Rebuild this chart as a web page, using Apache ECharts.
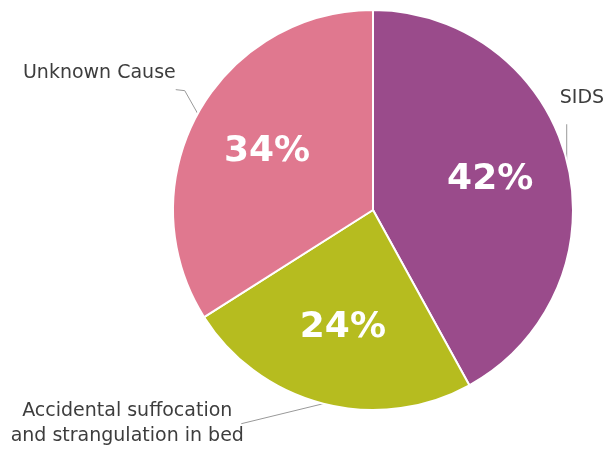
<!DOCTYPE html>
<html><head><meta charset="utf-8">
<script src="https://cdn.jsdelivr.net/npm/echarts@6/dist/echarts.min.js"></script>
<style>html,body{margin:0;padding:0;background:#fff}#c{width:609px;height:453px}</style>
</head><body><div id="c"></div>
<script>
var categories = ['SIDS', 'Accidental suffocation\nand strangulation in bed', 'Unknown Cause'];
var values = [42, 24, 34];
var colors = ['#9a4b8b', '#b6bc1f', '#e0788f'];

var data = categories.map(function (n, i) {
  return { name: n, value: values[i], itemStyle: { color: colors[i] } };
});
var FONT = '"DejaVu Sans", sans-serif';
var chart = echarts.init(document.getElementById('c'));
chart.setOption({
  animation: false,
  series: [{
    type: 'pie',
    center: [373, 210],
    radius: 200,
    startAngle: 90,
    clockwise: true,
    avoidLabelOverlap: false,
    data: data,
    itemStyle: { borderColor: '#fff', borderWidth: 2 },
    label: {
      position: 'outside',
      color: '#3d3d3d',
      fontFamily: FONT,
      fontSize: 19,
      lineHeight: 25,
      overflow: 'none'
    },
    labelLine: { length: 20, length2: 10, lineStyle: { color: '#999', width: 1 } },
    labelLayout: function (p) {
      var s = p.labelLinePoints[0];
      if (p.dataIndex === 0) {
        return { x: s[0] - 7, y: s[1] - 62, align: 'left', verticalAlign: 'middle',
          labelLinePoints: [s, [s[0], s[1] - 36], [s[0], s[1] - 36]] };
      } else if (p.dataIndex === 2) {
        return { x: s[0] - 22, y: s[1] - 41, align: 'right', verticalAlign: 'middle',
          labelLinePoints: [s, [s[0] - 13, s[1] - 23], [s[0] - 22, s[1] - 24]] };
      } else {
        return { x: s[0] - 196, y: s[1] + 20, align: 'center', verticalAlign: 'middle',
          labelLinePoints: [s, [s[0] - 82, s[1] + 20], [s[0] - 82, s[1] + 20]] };
      }
    }
  }, {
    type: 'pie',
    center: [373, 210],
    radius: [36, 200],
    startAngle: 90,
    clockwise: true,
    silent: true,
    data: data.map(function (d) { return { name: d.name, value: d.value }; }),
    itemStyle: { color: 'rgba(0,0,0,0)' },
    label: {
      position: 'inside',
      formatter: '{c}%',
      color: '#fff',
      fontWeight: 'bold',
      fontFamily: FONT,
      fontSize: 36
    },
    labelLine: { show: false }
  }]
});
</script></body></html>
